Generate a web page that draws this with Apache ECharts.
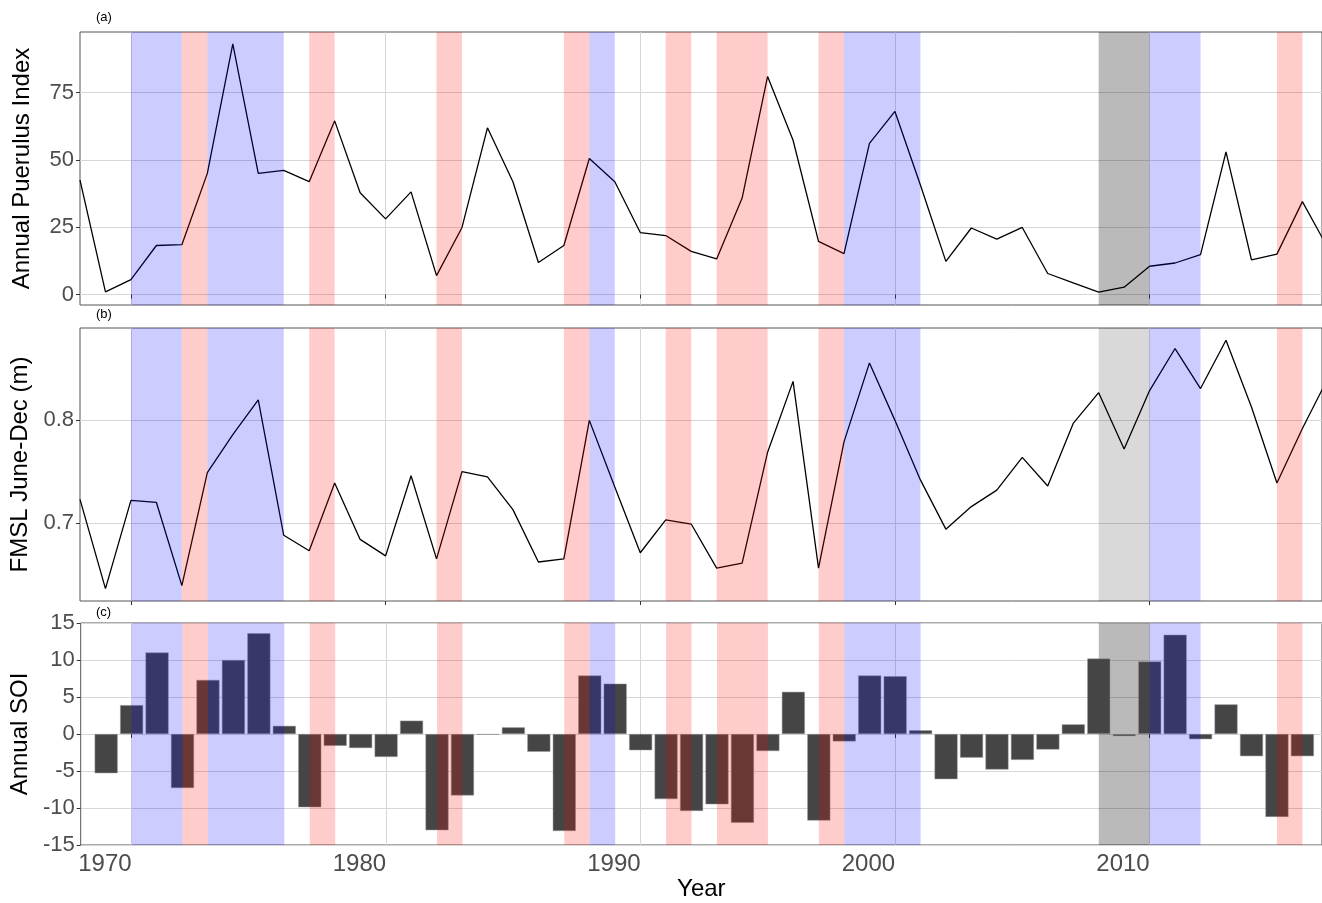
<!DOCTYPE html>
<html>
<head>
<meta charset="utf-8">
<script src="https://cdn.jsdelivr.net/npm/echarts@6/dist/echarts.min.js"></script>
<style>
  html, body { margin: 0; padding: 0; background: #fff; }
  #main { width: 1322px; height: 903px; }
</style>
</head>
<body>
<div id="main"></div>
<script>
// years of the two line series (panel a, b)
var years = [1968, 1969, 1970, 1971, 1972, 1973, 1974, 1975, 1976, 1977, 1978, 1979, 1980, 1981, 1982,
  1983, 1984, 1985, 1986, 1987, 1988, 1989, 1990, 1991, 1992, 1993, 1994, 1995, 1996, 1997, 1998, 1999,
  2000, 2001, 2002, 2003, 2004, 2005, 2006, 2007, 2008, 2009, 2010, 2011, 2012, 2013, 2014, 2015, 2016, 2017];
var puerulus = [42.5, 1.0, 5.5, 18.2, 18.5, 45.0, 93.1, 45.0, 46.1, 41.9, 64.5, 37.8, 28.1, 38.1, 7.0,
  24.9, 61.9, 41.9, 11.9, 18.2, 50.5, 41.9, 23.0, 21.9, 16.0, 13.2, 35.8, 81.0, 57.3, 19.7, 15.2, 56.1,
  68.0, 40.7, 12.3, 24.7, 20.6, 24.9, 7.8, 4.3, 0.9, 2.7, 10.5, 11.7, 14.8, 53.0, 12.9, 15.0, 34.5, 17.3];
var fmsl = [0.723, 0.636, 0.722, 0.720, 0.639, 0.749, 0.786, 0.820, 0.688, 0.673, 0.739, 0.684, 0.668, 0.746, 0.665,
  0.750, 0.745, 0.713, 0.662, 0.665, 0.800, 0.735, 0.671, 0.703, 0.699, 0.656, 0.661, 0.769, 0.838, 0.656, 0.779, 0.856,
  0.800, 0.742, 0.694, 0.716, 0.732, 0.764, 0.736, 0.797, 0.827, 0.772, 0.829, 0.870, 0.831, 0.878, 0.813, 0.739, 0.792, 0.841];

// panel c
var soiYears = [1969, 1970, 1971, 1972, 1973, 1974, 1975, 1976, 1977, 1978, 1979, 1980, 1981, 1982,
  1983, 1984, 1985, 1986, 1987, 1988, 1989, 1990, 1991, 1992, 1993, 1994, 1995, 1996, 1997, 1998, 1999,
  2000, 2001, 2002, 2003, 2004, 2005, 2006, 2007, 2008, 2009, 2010, 2011, 2012, 2013, 2014, 2015, 2016];
var soi = [-5.3, 3.9, 11.0, -7.3, 7.3, 10.0, 13.6, 1.1, -9.9, -1.6, -1.9, -3.1, 1.8, -13.0,
  -8.3, -0.1, 0.9, -2.4, -13.1, 7.9, 6.8, -2.2, -8.8, -10.4, -9.5, -12.0, -2.3, 5.7, -11.7, -1.0, 7.9,
  7.8, 0.5, -6.1, -3.2, -4.8, -3.5, -2.1, 1.3, 10.2, -0.3, 9.8, 13.4, -0.7, 4.0, -3.0, -11.2, -3.0];

// shaded periods [start, end]
var laNina = [[1970, 1972], [1973, 1976], [1988, 1989], [1998, 2001], [2010, 2012]];
var elNino = [[1972, 1973], [1977, 1978], [1982, 1983], [1987, 1988], [1991, 1992], [1993, 1995], [1997, 1998], [2015, 2016]];
var greyPeriod = [[2008, 2010]];

var xTicks = [1970, 1980, 1990, 2000, 2010];
var yTicksA = [0, 25, 50, 75];
var yTicksB = [0.7, 0.8];

var myChart = echarts.init(document.getElementById('main'));

var gridLine = { show: true, lineStyle: { color: '#d6d6d6', width: 1 } };
var labelColor = '#4d4d4d';

function pairs(xs, ys) {
  var out = [];
  for (var i = 0; i < xs.length; i++) out.push([xs[i], ys[i]]);
  return out;
}

function bandItem(params, api) {
  var p0 = api.coord([api.value(0), 0]);
  var p1 = api.coord([api.value(1), 0]);
  var cs = params.coordSys;
  return {
    type: 'rect',
    shape: { x: p0[0], y: cs.y, width: p1[0] - p0[0], height: cs.height },
    style: { fill: api.visual('color') }
  };
}

function xAxisFor(i) {
  return {
    type: 'value', gridIndex: i, min: 1968, max: 2016.77,
    axisLine: { show: false },
    axisTick: { show: true, customValues: xTicks, length: 4, lineStyle: { color: '#333' } },
    axisLabel: {
      show: i === 2, customValues: xTicks, align: 'right', fontSize: 24, color: labelColor, margin: 7,
      formatter: function (v) { return String(v); }
    },
    splitLine: gridLine,
    name: i === 2 ? 'Year' : '',
    nameLocation: 'middle', nameGap: 32,
    nameTextStyle: { fontSize: 24, color: '#000' }
  };
}

function bandSeries(i) {
  var list = [];
  list.push({ type: 'custom', xAxisIndex: i, yAxisIndex: i, renderItem: bandItem, data: greyPeriod,
    itemStyle: { color: i === 1 ? 'rgba(0,0,0,0.15)' : 'rgba(0,0,0,0.27)' }, z: 1, silent: true });
  list.push({ type: 'custom', xAxisIndex: i, yAxisIndex: i, renderItem: bandItem, data: laNina,
    itemStyle: { color: 'rgba(0,0,255,0.2)' }, z: 10, silent: true });
  list.push({ type: 'custom', xAxisIndex: i, yAxisIndex: i, renderItem: bandItem, data: elNino,
    itemStyle: { color: 'rgba(255,0,0,0.2)' }, z: 10, silent: true });
  return list;
}

var option = {
  animation: false,
  textStyle: { fontFamily: 'Liberation Sans' },
  grid: [
    { left: 80, right: 0, top: 32, height: 273, show: true, borderColor: '#555', borderWidth: 1 },
    { left: 80, right: 0, top: 328, height: 273, show: true, borderColor: '#555', borderWidth: 1 },
    { left: 80, right: 0, top: 623, height: 222, show: true, borderColor: '#555', borderWidth: 1 }
  ],
  graphic: [
    { type: 'text', left: 96, top: 11, style: { text: '(a)', fontSize: 13, fill: '#000', fontFamily: 'Liberation Sans' } },
    { type: 'text', left: 96, top: 308, style: { text: '(b)', fontSize: 13, fill: '#000', fontFamily: 'Liberation Sans' } },
    { type: 'text', left: 96, top: 606, style: { text: '(c)', fontSize: 13, fill: '#000', fontFamily: 'Liberation Sans' } }
  ],
  xAxis: [xAxisFor(0), xAxisFor(1), xAxisFor(2)],
  yAxis: [
    {
      type: 'value', gridIndex: 0, min: -3.9, max: 97.5,
      axisLine: { show: false },
      axisTick: { show: true, customValues: yTicksA, length: 4, lineStyle: { color: '#333' } },
      axisLabel: { customValues: yTicksA, fontSize: 22, color: labelColor, margin: 6 },
      splitLine: gridLine,
      name: 'Annual Puerulus Index', nameLocation: 'middle', nameGap: 46,
      nameTextStyle: { fontSize: 24, color: '#000' }
    },
    {
      type: 'value', gridIndex: 1, min: 0.624, max: 0.89,
      axisLine: { show: false },
      axisTick: { show: true, customValues: yTicksB, length: 4, lineStyle: { color: '#333' } },
      axisLabel: { customValues: yTicksB, fontSize: 22, color: labelColor, margin: 6 },
      splitLine: gridLine,
      name: 'FMSL June-Dec (m)', nameLocation: 'middle', nameGap: 46,
      nameTextStyle: { fontSize: 24, color: '#000' }
    },
    {
      type: 'value', gridIndex: 2, min: -15, max: 15, interval: 5,
      axisLine: { show: false },
      axisTick: { show: true, length: 4, lineStyle: { color: '#333' } },
      axisLabel: { fontSize: 22, color: labelColor, margin: 6 },
      splitLine: gridLine,
      name: 'Annual SOI', nameLocation: 'middle', nameGap: 46,
      nameTextStyle: { fontSize: 24, color: '#000' }
    }
  ],
  series: [].concat(
    bandSeries(0), bandSeries(1), bandSeries(2),
    [
      { type: 'line', xAxisIndex: 0, yAxisIndex: 0, data: pairs(years, puerulus), showSymbol: false,
        lineStyle: { color: '#000', width: 1.3 }, itemStyle: { color: '#000' }, z: 5 },
      { type: 'line', xAxisIndex: 1, yAxisIndex: 1, data: pairs(years, fmsl), showSymbol: false,
        lineStyle: { color: '#000', width: 1.3 }, itemStyle: { color: '#000' }, z: 5 },
      { type: 'bar', xAxisIndex: 2, yAxisIndex: 2, data: pairs(soiYears, soi), barWidth: 23,
        itemStyle: { color: '#454545', borderColor: '#9a9a9a', borderWidth: 0.5 }, z: 5 }
    ]
  )
};

myChart.setOption(option);
</script>
</body>
</html>
